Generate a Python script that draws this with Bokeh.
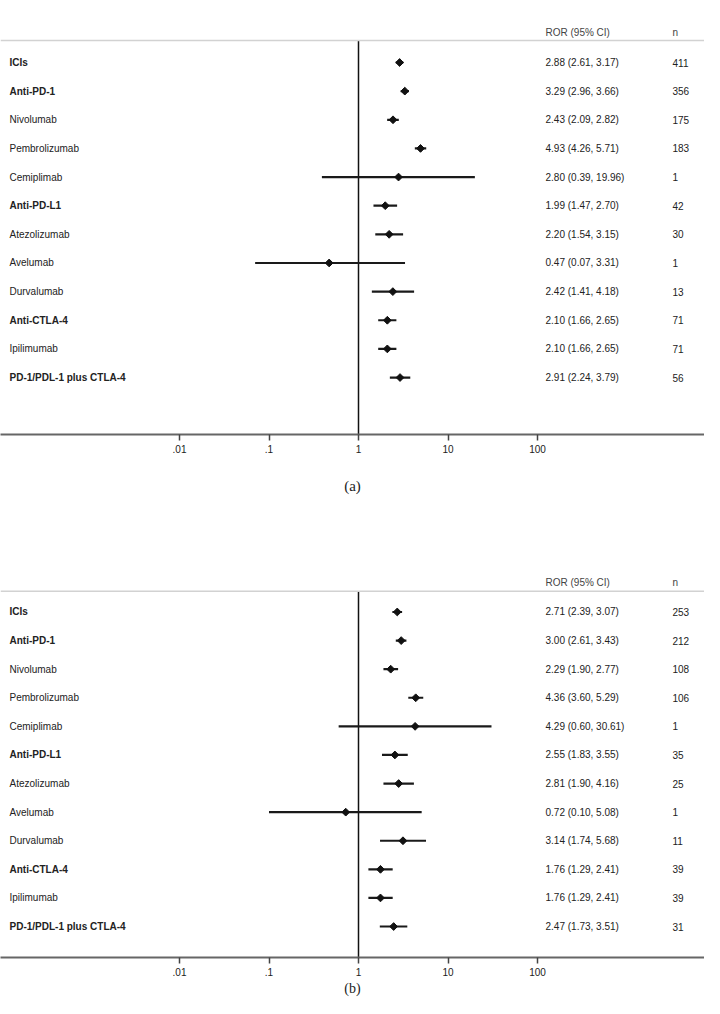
import math
from bokeh.plotting import figure
from bokeh.models import (Range1d, LabelSet, ColumnDataSource, Span, FixedTicker,
                          CustomJSTickFormatter, Label)
from bokeh.core.properties import value
from bokeh.layouts import column
from bokeh.embed import file_html
from bokeh.resources import INLINE

# ---------------- data ----------------
drugs = ["ICIs", "Anti-PD-1", "Nivolumab", "Pembrolizumab", "Cemiplimab", "Anti-PD-L1",
         "Atezolizumab", "Avelumab", "Durvalumab", "Anti-CTLA-4", "Ipilimumab",
         "PD-1/PDL-1 plus CTLA-4"]
is_group = [True, True, False, False, False, True, False, False, False, True, False, True]

ror_a = [2.88, 3.29, 2.43, 4.93, 2.80, 1.99, 2.20, 0.47, 2.42, 2.10, 2.10, 2.91]
lo_a = [2.61, 2.96, 2.09, 4.26, 0.39, 1.47, 1.54, 0.07, 1.41, 1.66, 1.66, 2.24]
hi_a = [3.17, 3.66, 2.82, 5.71, 19.96, 2.70, 3.15, 3.31, 4.18, 2.65, 2.65, 3.79]
n_a = [411, 356, 175, 183, 1, 42, 30, 1, 13, 71, 71, 56]

ror_b = [2.71, 3.00, 2.29, 4.36, 4.29, 2.55, 2.81, 0.72, 3.14, 1.76, 1.76, 2.47]
lo_b = [2.39, 2.61, 1.90, 3.60, 0.60, 1.83, 1.90, 0.10, 1.74, 1.29, 1.29, 1.73]
hi_b = [3.07, 3.43, 2.77, 5.29, 30.61, 3.55, 4.16, 5.08, 5.68, 2.41, 2.41, 3.51]
n_b = [253, 212, 108, 106, 1, 35, 25, 1, 11, 39, 39, 31]

ticks = [0.01, 0.1, 1, 10, 100]

# ---------------- layout constants ----------------
W = 704
X_ONE = 358          # px of value 1 inside the figure
PX_DEC = 89.5        # px per decade
FONT = "Liberation Sans"
FS = "10px"
TXT = "#222222"


def make_panel(label, ror, lo, hi, n, height, frame_h, head_px, rule_px, row0,
               row_h, label_standoff, label_size):
    x0 = 10 ** ((0 - X_ONE) / PX_DEC)
    x1 = 10 ** ((W - X_ONE) / PX_DEC)
    y_top = -row0 / row_h
    y_bot = (frame_h - row0) / row_h
    p = figure(width=W, height=height, x_axis_type="log",
               x_range=Range1d(x0, x1), y_range=Range1d(y_bot, y_top),
               y_axis_location=None, toolbar_location=None, output_backend="svg",
               min_border_left=0, min_border_right=0, min_border_top=0,
               min_border_bottom=height - frame_h)
    p.outline_line_color = None
    p.xgrid.visible = False
    p.ygrid.visible = False
    p.background_fill_color = "white"
    p.border_fill_color = "white"

    rows = list(range(len(drugs)))
    y_line = (rule_px - row0) / row_h
    y_head = (head_px - row0) / row_h

    # gray header rule
    p.add_layout(Span(location=y_line, dimension="width", line_color="#d2d2d2",
                      line_width=1.5))
    # line of no effect
    p.segment(x0=[1], y0=[y_line], x1=[1], y1=[y_bot], line_color="#111111",
              line_width=1.5)

    src = ColumnDataSource(dict(
        y=rows, ror=ror, lo=lo, hi=hi,
        txt=[f"{r:.2f} ({a:.2f}, {b:.2f})" for r, a, b in zip(ror, lo, hi)],
        n=[str(v) for v in n]))
    p.segment(x0="lo", y0="y", x1="hi", y1="y", source=src, line_color="#1a1a1a",
              line_width=2.2)
    p.scatter(x="ror", y="y", source=src, marker="square", angle=math.pi / 4,
              size=5.5, fill_color="#111111", line_color="#111111")

    bold_src = ColumnDataSource(dict(
        y=[r for r, g in zip(rows, is_group) if g],
        t=[d for d, g in zip(drugs, is_group) if g]))
    norm_src = ColumnDataSource(dict(
        y=[r for r, g in zip(rows, is_group) if not g],
        t=[d for d, g in zip(drugs, is_group) if not g]))
    for s, style in ((bold_src, "bold"), (norm_src, "normal")):
        p.add_layout(LabelSet(x=9, y="y", text="t", source=s, x_units="screen",
                              text_font=value(FONT), text_font_size=value(FS),
                              text_font_style=value(style), text_color=TXT,
                              text_baseline="middle", text_align="left"))
    p.add_layout(LabelSet(x=545, y="y", text="txt", source=src, x_units="screen",
                          text_font=value(FONT), text_font_size=value(FS),
                          text_color=TXT, text_baseline="middle", text_align="left"))
    p.add_layout(LabelSet(x=672, y="y", text="n", source=src, x_units="screen",
                          text_font=value(FONT), text_font_size=value(FS),
                          text_color=TXT, text_baseline="middle", text_align="left"))
    # headers
    p.add_layout(Label(x=545, y=y_head, x_units="screen", text="ROR (95% CI)",
                       text_font=FONT, text_font_size=FS, text_color="#444444",
                       text_baseline="middle", text_align="left"))
    p.add_layout(Label(x=672, y=y_head, x_units="screen", text="n",
                       text_font=FONT, text_font_size=FS, text_color="#444444",
                       text_baseline="middle", text_align="left"))

    ax = p.xaxis[0]
    ax.ticker = FixedTicker(ticks=ticks)
    ax.formatter = CustomJSTickFormatter(
        code="var s = String(tick); return tick < 1 ? s.replace(/^0/, '') : s;")
    ax.minor_tick_line_color = None
    ax.axis_line_color = "#666666"
    ax.axis_line_width = 2
    ax.major_tick_line_color = "#444444"
    ax.major_tick_line_width = 1.5
    ax.major_tick_in = 0
    ax.major_tick_out = 6
    ax.major_label_standoff = 4
    ax.major_label_text_font = FONT
    ax.major_label_text_font_size = FS
    ax.major_label_text_color = TXT
    ax.axis_label = label
    ax.axis_label_text_font = "Liberation Serif"
    ax.axis_label_text_font_style = "normal"
    ax.axis_label_text_font_size = label_size
    ax.axis_label_text_color = TXT
    ax.axis_label_standoff = label_standoff
    return p


# panel (a): figure spans page y 0..540
pa = make_panel("(a)", ror_a, lo_a, hi_a, n_a, height=540, frame_h=434,
                head_px=32, rule_px=40, row0=62, row_h=28.64,
                label_standoff=22, label_size="15px")
# panel (b): figure spans page y 540..998
pb = make_panel("(b)", ror_b, lo_b, hi_b, n_b, height=458, frame_h=420,
                head_px=42, rule_px=51, row0=72, row_h=28.8,
                label_standoff=2, label_size="14px")

layout = column(pa, pb, spacing=0)
open("out.html", "w").write(file_html(layout, INLINE))
